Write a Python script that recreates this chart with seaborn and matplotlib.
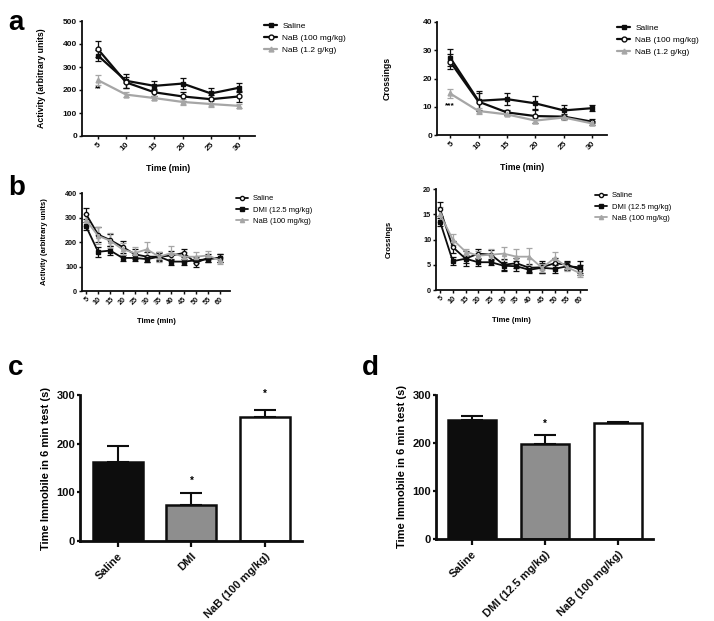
import numpy as np
import pandas as pd
import matplotlib
matplotlib.use('Agg')
import matplotlib.pyplot as plt
import seaborn as sns

sns.set_style('ticks')
plt.rcParams['font.family'] = ['Liberation Sans', 'DejaVu Sans']
plt.rcParams['text.color'] = 'black'
plt.rcParams['axes.labelcolor'] = 'black'

W, H = 714, 621

# panel a: open field 30 min
time_a = [5, 10, 15, 20, 25, 30]
act_saline = [350, 240, 218, 228, 185, 210]
act_saline_err = [25, 30, 20, 25, 25, 20]
act_nab100 = [378, 233, 190, 172, 160, 172]
act_nab100_err = [35, 25, 15, 20, 20, 25]
act_nab12 = [243, 180, 165, 148, 139, 131]
act_nab12_err = [22, 12, 10, 15, 15, 10]

cross_saline = [27.4, 12.1, 12.7, 11.2, 8.7, 9.5]
cross_saline_err = [3.0, 3.5, 2.2, 2.5, 2.0, 1.0]
cross_nab100 = [26.0, 11.8, 8.0, 6.7, 6.5, 4.7]
cross_nab100_err = [2.5, 3.0, 1.0, 2.5, 1.0, 1.0]
cross_nab12 = [14.7, 8.5, 7.3, 5.1, 6.2, 4.1]
cross_nab12_err = [1.7, 1.0, 0.7, 1.0, 1.0, 0.7]

# panel b: open field 60 min
time_b = [5, 10, 15, 20, 25, 30, 35, 40, 45, 50, 55, 60]
b_act_saline = [315, 230, 208, 180, 150, 140, 140, 145, 155, 115, 135, 135]
b_act_dmi = [265, 160, 165, 135, 135, 130, 140, 120, 120, 125, 130, 135]
b_act_nab = [290, 225, 205, 170, 155, 170, 140, 155, 140, 140, 145, 125]
b_act_saline_err = [22, 30, 25, 25, 20, 20, 18, 20, 18, 15, 15, 15]
b_act_dmi_err = [15, 20, 20, 12, 12, 12, 15, 12, 12, 12, 12, 15]
b_act_nab_err = [25, 35, 30, 25, 25, 30, 20, 28, 20, 20, 20, 15]

b_cr_saline = [16.0, 8.5, 6.2, 7.2, 7.0, 5.0, 5.3, 4.4, 4.5, 5.3, 5.0, 4.0]
b_cr_dmi = [13.5, 5.7, 6.2, 5.5, 5.5, 4.8, 4.7, 4.0, 4.4, 4.2, 4.7, 4.5]
b_cr_nab = [15.0, 10.0, 7.6, 6.8, 7.0, 7.2, 6.6, 6.6, 4.4, 6.3, 4.5, 3.3]
b_cr_saline_err = [1.4, 1.2, 0.8, 1.0, 1.0, 1.2, 1.0, 0.8, 1.2, 1.0, 0.8, 1.0]
b_cr_dmi_err = [0.8, 0.8, 1.5, 0.8, 0.6, 0.8, 1.0, 0.6, 1.0, 0.8, 0.8, 1.2]
b_cr_nab_err = [1.5, 1.0, 0.6, 1.0, 1.2, 1.3, 1.5, 1.7, 0.8, 1.2, 0.8, 0.8]

# panels c, d: forced swim
groups_c = ['Saline', 'DMI', 'NaB (100 mg/kg)']
immob_c = [163, 73, 254]
immob_c_err = [32, 26, 16]
groups_d = ['Saline', 'DMI (12.5 mg/kg)', 'NaB (100 mg/kg)']
immob_d = [248, 198, 242]
immob_d_err = [9, 19, 2]

BLACK = '#0d0d0d'
GRAY = '#a6a6a6'
BAR_GRAY = '#8e8e8e'

fig = plt.figure(figsize=(W / 100, H / 100), dpi=100)


def add_ax(x0, y0, x1, y1):
    # pixel box -> figure coords
    return fig.add_axes([x0 / W, 1 - y1 / H, (x1 - x0) / W, (y1 - y0) / H])


def style_ax(ax, lw=1.3, fs=5.5):
    sns.despine(ax=ax)
    for s in ['left', 'bottom']:
        ax.spines[s].set_linewidth(lw)
        ax.spines[s].set_color(BLACK)
    ax.tick_params(width=lw * 0.8, length=2.5, labelsize=fs, pad=1, colors=BLACK)
    for lab in ax.get_xticklabels() + ax.get_yticklabels():
        lab.set_fontweight('bold')


def line_panel(ax, x, series, xlim, ylim, yticks, ylabel, legend_pos, lw=1.6, ms=3.5, fs=6,
               leg_fs=6, lab_fs=6.3):
    for name, y, err, color, marker, mfc in series:
        ax.errorbar(x, y, yerr=err, fmt='none', ecolor=color, elinewidth=0.9, capsize=2.2, capthick=0.9, zorder=2)
        sns.lineplot(x=x, y=y, ax=ax, color=color, lw=lw, marker=marker, markersize=ms,
                     markerfacecolor=mfc, markeredgecolor=color, markeredgewidth=1.0,
                     label=name, zorder=3)
    ax.set_xlim(*xlim)
    ax.set_ylim(*ylim)
    ax.set_xticks(x)
    ax.set_yticks(yticks)
    ax.set_xticklabels([str(v) for v in x], rotation=45, ha='right', rotation_mode='anchor')
    ax.set_ylabel(ylabel, fontsize=lab_fs, fontweight='bold', labelpad=12)
    ax.set_xlabel('Time (min)', fontsize=lab_fs, fontweight='bold', labelpad=8)
    style_ax(ax, fs=fs)
    ax.legend(loc='upper left', bbox_to_anchor=(legend_pos[0] / W, 1 - legend_pos[1] / H),
              bbox_transform=fig.transFigure, frameon=False, fontsize=leg_fs,
              handlelength=1.6, labelspacing=0.5, borderaxespad=0, borderpad=0,
              handletextpad=0.6)


# ---- panel a ----
ax1 = add_ax(82, 21, 255, 136)
line_panel(ax1, time_a,
           [('Saline', act_saline, act_saline_err, BLACK, 's', BLACK),
            ('NaB (100 mg/kg)', act_nab100, act_nab100_err, BLACK, 'o', 'white'),
            ('NaB (1.2 g/kg)', act_nab12, act_nab12_err, GRAY, '^', GRAY)],
           (2.2, 32.8), (0, 500), [0, 100, 200, 300, 400, 500],
           'Activity (arbitrary units)', (264, 22))
ax1.text(5, 205, '**', ha='center', va='center', fontsize=6, fontweight='bold')

ax2 = add_ax(437, 22, 607, 135)
line_panel(ax2, time_a,
           [('Saline', cross_saline, cross_saline_err, BLACK, 's', BLACK),
            ('NaB (100 mg/kg)', cross_nab100, cross_nab100_err, BLACK, 'o', 'white'),
            ('NaB (1.2 g/kg)', cross_nab12, cross_nab12_err, GRAY, '^', GRAY)],
           (2.7, 32.6), (0, 40), [0, 10, 20, 30, 40],
           'Crossings', (617, 24))
ax2.yaxis.labelpad = 22
ax2.text(5, 10.3, '***', ha='center', va='center', fontsize=6, fontweight='bold')

# ---- panel b ----
ax3 = add_ax(82, 193, 230, 291)
line_panel(ax3, time_b,
           [('Saline', b_act_saline, b_act_saline_err, BLACK, 'o', 'white'),
            ('DMI (12.5 mg/kg)', b_act_dmi, b_act_dmi_err, BLACK, 's', BLACK),
            ('NaB (100 mg/kg)', b_act_nab, b_act_nab_err, GRAY, '^', GRAY)],
           (3.4, 64), (0, 400), [0, 100, 200, 300, 400],
           'Activity (arbitrary units)', (236, 195), lw=1.3, ms=3, fs=5.2,
           leg_fs=5.5, lab_fs=5.5)

ax4 = add_ax(436, 189, 587, 290)
line_panel(ax4, time_b,
           [('Saline', b_cr_saline, b_cr_saline_err, BLACK, 'o', 'white'),
            ('DMI (12.5 mg/kg)', b_cr_dmi, b_cr_dmi_err, BLACK, 's', BLACK),
            ('NaB (100 mg/kg)', b_cr_nab, b_cr_nab_err, GRAY, '^', GRAY)],
           (3.4, 62.7), (0, 20), [0, 5, 10, 15, 20],
           'Crossings', (595, 192), lw=1.3, ms=3, fs=5.2, leg_fs=5.5, lab_fs=5.5)
ax4.yaxis.labelpad = 22


# ---- panels c, d ----
def bar_panel(ax, groups, vals, errs, xlim, width, stars):
    df = pd.DataFrame({'group': groups, 'value': vals})
    sns.barplot(data=df, x='group', y='value', hue='group', ax=ax, legend=False,
                palette=[BLACK, BAR_GRAY, 'white'], width=width,
                edgecolor=BLACK, linewidth=1.8, errorbar=None, zorder=2)
    ax.errorbar(range(len(vals)), vals, yerr=[[0] * len(vals), errs], fmt='none',
                ecolor=BLACK, elinewidth=1.5, capsize=8, capthick=1.5, zorder=1)
    for i, y in stars:
        ax.text(i, y, '*', ha='center', va='center', fontsize=7, fontweight='bold')
    ax.set_xlim(*xlim)
    ax.set_ylim(0, 300)
    ax.set_yticks([0, 100, 200, 300])
    ax.set_xlabel('')
    ax.set_ylabel('Time Immobile in 6 min test (s)', fontsize=8, fontweight='bold', labelpad=4)
    ax.set_xticks(range(len(groups)))
    ax.set_xticklabels(groups, rotation=45, ha='right', rotation_mode='anchor')
    style_ax(ax, lw=2.0, fs=8)
    ax.tick_params(axis='x', length=4, pad=3)


ax5 = add_ax(80, 395, 302, 541)
bar_panel(ax5, groups_c, immob_c, immob_c_err, (-0.51, 2.5), 0.68, [(1, 124), (2, 303)])

ax6 = add_ax(436, 395, 653, 539)
bar_panel(ax6, groups_d, immob_d, immob_d_err, (-0.49, 2.48), 0.66, [(1, 240)])

# panel letters
for letter, x, y in [('a', 8, 30), ('b', 8, 195), ('c', 8, 375), ('d', 362, 375)]:
    fig.text(x / W, 1 - y / H, letter, fontsize=20, fontweight='bold', color='black',
             ha='left', va='baseline')

fig.savefig('out.png', dpi=100)
